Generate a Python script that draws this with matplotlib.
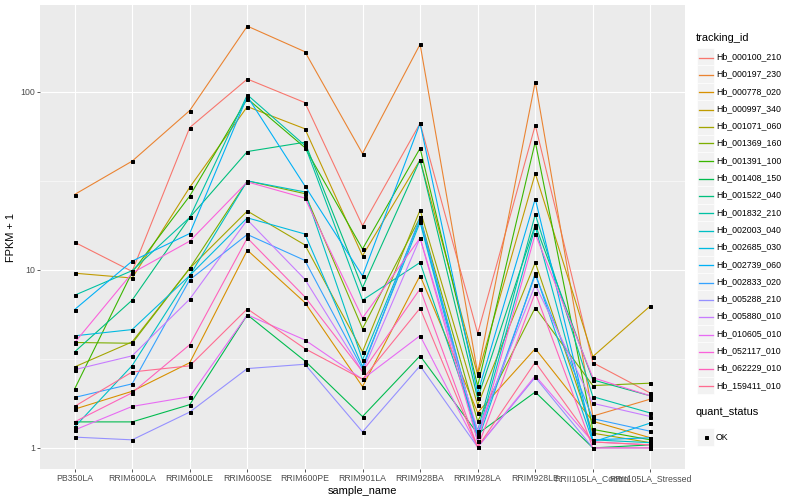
import numpy as np
import matplotlib
matplotlib.use("Agg")
import matplotlib.pyplot as plt
from matplotlib.patches import Rectangle
from matplotlib.lines import Line2D
from matplotlib.ticker import FixedLocator, NullFormatter

plt.rcParams['font.family'] = ['Liberation Sans', 'DejaVu Sans']

# samples (x axis)
samples = ['PB350LA', 'RRIM600LA', 'RRIM600LE', 'RRIM600SE', 'RRIM600PE', 'RRIM901LA',
           'RRIM928BA', 'RRIM928LA', 'RRIM928LE', 'RRII105LA_Control', 'RRII105LA_Stressed']

tracking_ids = ['Hb_000100_210', 'Hb_000197_230', 'Hb_000778_020', 'Hb_000997_340',
                'Hb_001071_060', 'Hb_001369_160', 'Hb_001391_100', 'Hb_001408_150',
                'Hb_001522_040', 'Hb_001832_210', 'Hb_002003_040', 'Hb_002685_030',
                'Hb_002739_060', 'Hb_002833_020', 'Hb_005288_210', 'Hb_005880_010',
                'Hb_010605_010', 'Hb_052117_010', 'Hb_062229_010', 'Hb_159411_010']

# FPKM + 1 per sample
hb_000100_210 = [14.3, 9.8, 63, 118, 87, 17.7, 66.6, 4.4, 65, 3.01, 2.03]
hb_000197_230 = [26.5, 40.8, 78.5, 234, 168, 45, 185, 2.63, 114, 1.51, 1.88]
hb_000778_020 = [1.65, 2.08, 3.01, 12.9, 6.55, 2.21, 9.29, 1.58, 3.61, 1.41, 1.14]
hb_000997_340 = [9.58, 9.0, 29.1, 82.6, 62, 12.0, 41.5, 2.57, 34.8, 3.26, 6.28]
hb_001071_060 = [2.85, 3.94, 10.2, 21.4, 13.8, 3.47, 21.7, 1.74, 11.0, 1.21, 1.07]
hb_001369_160 = [3.91, 3.87, 10.2, 31.6, 26.8, 4.68, 19.7, 1.41, 6.14, 2.24, 2.31]
hb_001391_100 = [2.14, 9.7, 26.0, 91.5, 48.6, 13.1, 48.2, 2.23, 52.4, 1.27, 1.11]
hb_001408_150 = [1.40, 1.40, 1.75, 5.59, 3.08, 1.50, 3.29, 1.2, 2.06, 1.0, 1.04]
hb_001522_040 = [3.46, 6.76, 19.7, 46.2, 52.1, 7.94, 41.5, 1.90, 17.9, 2.41, 1.96]
hb_001832_210 = [7.2, 9.9, 19.7, 96.2, 50, 6.76, 11.0, 1.25, 20.5, 1.94, 1.57]
hb_002003_040 = [1.31, 2.90, 9.3, 31.6, 27.4, 3.12, 19.1, 1.17, 17.5, 1.11, 1.07]
hb_002685_030 = [4.26, 4.62, 9.3, 19.6, 15.9, 2.86, 18.5, 1.09, 9.58, 1.08, 1.38]
hb_002739_060 = [5.98, 11.2, 16.0, 94.2, 29.6, 9.25, 66.6, 2.03, 25.1, 1.11, 1.14]
hb_002833_020 = [1.92, 2.29, 8.8, 15.8, 11.3, 2.78, 19.7, 1.17, 9.37, 1.46, 1.24]
hb_005288_210 = [1.15, 1.11, 1.59, 2.79, 2.95, 1.23, 2.89, 1.01, 2.49, 1.0, 1.0]
hb_005880_010 = [2.75, 3.29, 6.85, 19.1, 8.85, 2.68, 15.1, 1.25, 8.24, 1.78, 1.50]
hb_010605_010 = [1.26, 1.71, 1.94, 5.59, 4.04, 2.43, 4.27, 1.01, 2.54, 1.08, 1.04]
hb_052117_010 = [3.9, 9.6, 14.5, 31.2, 25.3, 5.37, 15.1, 1.09, 15.9, 2.48, 1.96]
hb_062229_010 = [1.40, 2.04, 3.8, 15.1, 7.05, 2.68, 7.82, 1.01, 7.45, 1.0, 1.0]
hb_159411_010 = [1.71, 2.67, 2.89, 6.04, 3.61, 2.43, 6.09, 1.01, 3.03, 1.08, 1.04]

series = [hb_000100_210, hb_000197_230, hb_000778_020, hb_000997_340, hb_001071_060,
          hb_001369_160, hb_001391_100, hb_001408_150, hb_001522_040, hb_001832_210,
          hb_002003_040, hb_002685_030, hb_002739_060, hb_002833_020, hb_005288_210,
          hb_005880_010, hb_010605_010, hb_052117_010, hb_062229_010, hb_159411_010]

# ggplot default hue palette, 20 levels
colors = ['#F8766D', '#EA8331', '#D89000', '#C09B00', '#A3A500', '#7CAE00', '#39B600',
          '#00BB4E', '#00BF7D', '#00C1A3', '#00BFC4', '#00BAE0', '#00B0F6', '#35A2FF',
          '#9590FF', '#C77CFF', '#E76BF3', '#FA62DB', '#FF62BC', '#FF6C91']

W, H = 800, 500
fig = plt.figure(figsize=(W / 72, H / 72), dpi=72)
ax = fig.add_axes([40 / W, 31 / H, 645 / W, 464 / H])
ax.set_facecolor('#EBEBEB')

x = np.arange(len(samples))
for vals, col in zip(series, colors):
    ax.plot(x, vals, color=col, lw=1.1, zorder=3)
for vals in series:
    ax.plot(x, vals, 's', color='black', ms=3.0, zorder=4)

ax.set_yscale('log')
logv = np.log10(np.concatenate(series))
lo, hi = logv.min(), logv.max()
pad = 0.05 * (hi - lo)
ax.set_ylim(10 ** (lo - pad), 10 ** (hi + pad))
ax.set_xlim(-0.6, len(samples) - 1 + 0.6)

ax.yaxis.set_major_locator(FixedLocator([1, 10, 100]))
ax.set_yticklabels(['1', '10', '100'])
ax.yaxis.set_minor_locator(FixedLocator([10 ** 0.5, 10 ** 1.5]))
ax.yaxis.set_minor_formatter(NullFormatter())
ax.set_xticks(x)
ax.set_xticklabels(samples)

ax.grid(which='major', color='white', lw=1.1)
ax.grid(which='minor', axis='y', color='white', lw=0.55)
ax.set_axisbelow(True)
for s in ax.spines.values():
    s.set_visible(False)
ax.tick_params(which='minor', length=0)
ax.tick_params(which='major', length=2.75, width=0.8, color='#333333',
               labelcolor='#4D4D4D', labelsize=8.8, pad=2.2)
ax.set_xlabel('sample_name', fontsize=11, labelpad=3)
ax.set_ylabel('FPKM + 1', fontsize=11, labelpad=4)


# legends drawn in pixel coordinates of the figure
def px(xp, yp):
    return xp / W, 1 - yp / H


key = 17.3
fig.text(*px(696, 38), 'tracking_id', fontsize=11, va='center', ha='left')
for i, (name, col) in enumerate(zip(tracking_ids, colors)):
    cy = 56.7 + i * key
    fig.patches.append(Rectangle(px(697, cy + key / 2), key / W, key / H,
                                 transform=fig.transFigure, facecolor='#F2F2F2',
                                 edgecolor='white', lw=0.6, zorder=1))
    ly = round(cy) + 0.5
    x0, y0 = px(698.5, ly)
    x1, _ = px(712.5, ly)
    fig.lines.append(Line2D([x0, x1], [y0, y0], transform=fig.transFigure,
                            color=col, lw=1.3, zorder=3))
    fig.text(*px(716, cy), name, fontsize=8.8, va='center', ha='left')

fig.text(*px(696, 412), 'quant_status', fontsize=11, va='center', ha='left')
cy = 437
fig.patches.append(Rectangle(px(697, cy + key / 2), key / W, key / H,
                             transform=fig.transFigure, facecolor='#F2F2F2',
                             edgecolor='white', lw=0.6, zorder=1))
mx, my = px(705.6, cy)
fig.lines.append(Line2D([mx], [my], transform=fig.transFigure, marker='s',
                        color='black', ms=3.0, zorder=3))
fig.text(*px(716, cy), 'OK', fontsize=8.8, va='center', ha='left')

fig.savefig('out.png', dpi=72)
